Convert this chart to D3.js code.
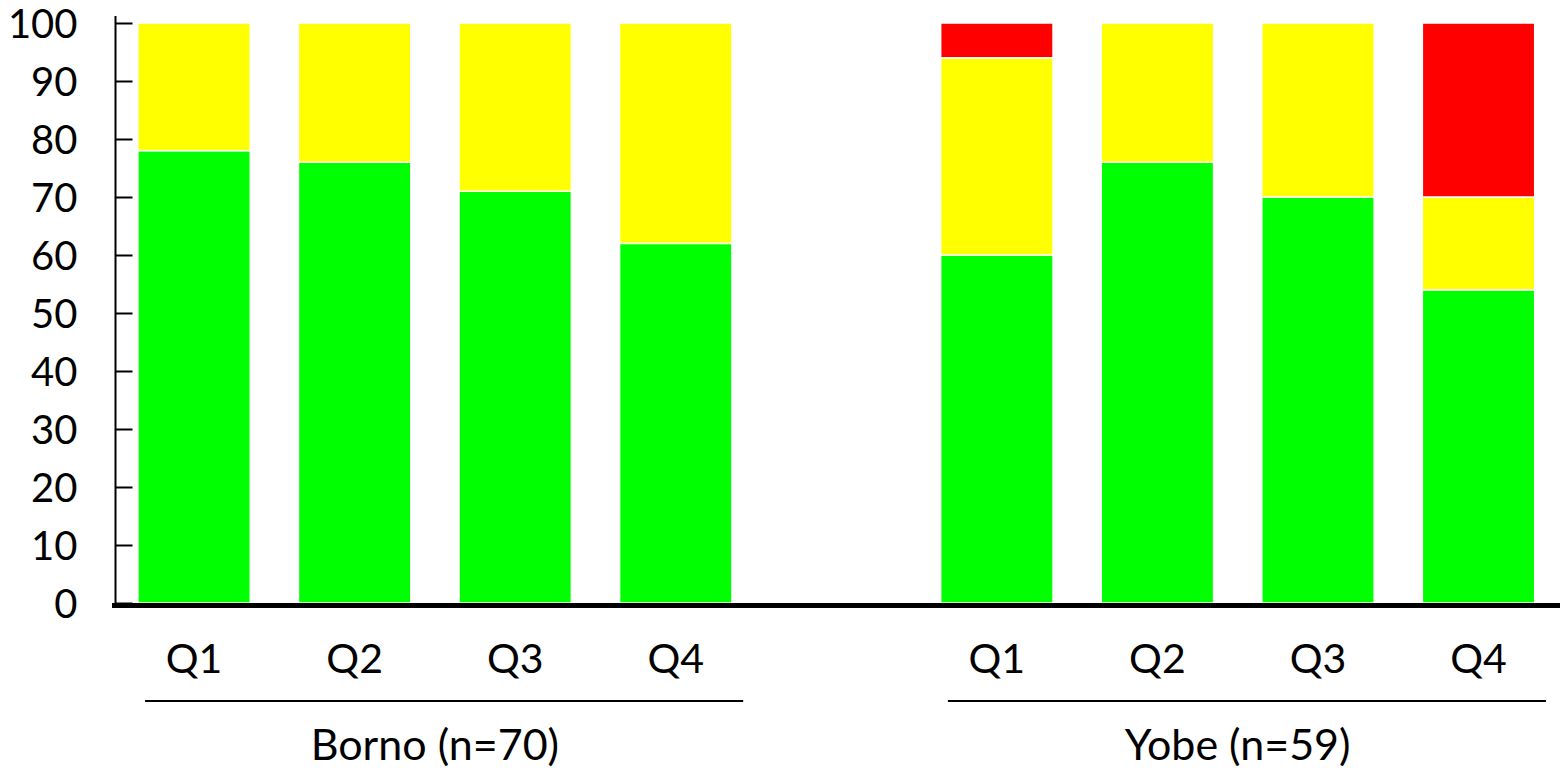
<!DOCTYPE html>
<html>
<head>
<meta charset="utf-8">
<script src="https://cdn.jsdelivr.net/npm/d3@7"></script>
<style>
  html, body { margin: 0; padding: 0; background: #fff; }
  svg { display: block; }
  text { font-family: Lato, "Open Sans", sans-serif; fill: #000; }
</style>
</head>
<body>
<svg id="chart" width="1560" height="772"></svg>
<script>
// Quarterly shares (%) per state, stacked green / yellow / red
const groups = ["Borno (n=70)", "Yobe (n=59)"];
const quarters = ["Q1", "Q2", "Q3", "Q4"];
const greenBorno = [78, 76, 71, 62];
const yellowBorno = [22, 24, 29, 38];
const redBorno = [0, 0, 0, 0];
const greenYobe = [60, 76, 70, 54];
const yellowYobe = [34, 24, 30, 16];
const redYobe = [6, 0, 0, 30];
const yTicks = [0, 10, 20, 30, 40, 50, 60, 70, 80, 90, 100];

const seriesKeys = ["green", "yellow", "red"];
const colors = { green: "#00ff00", yellow: "#ffff00", red: "#ff0000" };

// Build rows: one per bar, plus an empty slot between the two states
const rows = [];
const series = [
  { g: groups[0], green: greenBorno, yellow: yellowBorno, red: redBorno },
  { g: groups[1], green: greenYobe, yellow: yellowYobe, red: redYobe }
];
series.forEach((s, gi) => {
  if (gi > 0) rows.push({ key: "gap" + gi, q: "", group: null, green: 0, yellow: 0, red: 0 });
  quarters.forEach((q, i) => {
    rows.push({ key: s.g + q, q: q, group: s.g, green: s.green[i], yellow: s.yellow[i], red: s.red[i] });
  });
});

const svg = d3.select("#chart");

const x = d3.scaleBand()
  .domain(rows.map(d => d.key))
  .range([113.8, 1558.8])
  .paddingInner(0.3)
  .paddingOuter(0.15);

const y = d3.scaleLinear().domain([0, 100]).range([603, 23]);

const stack = d3.stack().keys(seriesKeys);
const stacked = stack(rows);

// Bars
svg.append("g")
  .selectAll("g")
  .data(stacked)
  .join("g")
  .attr("fill", d => colors[d.key])
  .selectAll("rect")
  .data(d => d.filter(p => p[1] - p[0] > 0))
  .join("rect")
  .attr("x", p => x(p.data.key))
  .attr("width", x.bandwidth())
  .attr("y", p => y(p[1]))
  .attr("height", p => y(p[0]) - y(p[1]))
  .attr("stroke", "#fff")
  .attr("stroke-width", 1.5);

// Y axis: ticks point into the plot, labels on the left
const axisX = 115.5;
const yAxis = d3.axisLeft(y)
  .tickValues(yTicks)
  .tickSizeInner(-17)
  .tickSizeOuter(0)
  .tickPadding(38);

const gy = svg.append("g")
  .attr("transform", `translate(${axisX},0)`)
  .call(yAxis);
gy.select(".domain").remove();
gy.selectAll(".tick line").attr("stroke", "#000").attr("stroke-width", 2);
gy.selectAll(".tick text")
  .style("font-family", "Lato, 'Open Sans', sans-serif")
  .style("font-size", "40px")
  .attr("fill", "#000")
  .attr("dy", "0.36em");
gy.append("line")
  .attr("x1", 0).attr("x2", 0)
  .attr("y1", y(0)).attr("y2", y(100) - 7)
  .attr("stroke", "#000").attr("stroke-width", 2);

// Baseline
svg.append("line")
  .attr("x1", 112).attr("x2", 1560)
  .attr("y1", y(0) + 2.5).attr("y2", y(0) + 2.5)
  .attr("stroke", "#000").attr("stroke-width", 5);

// Quarter labels
svg.append("g")
  .selectAll("text")
  .data(rows.filter(d => d.group))
  .join("text")
  .attr("x", d => x(d.key) + x.bandwidth() / 2)
  .attr("y", 673)
  .attr("text-anchor", "middle")
  .style("font-size", "41px")
  .text(d => d.q);

// State labels with underline
const step = x.step();
groups.forEach(g => {
  const members = rows.filter(d => d.group === g);
  const c0 = x(members[0].key) + x.bandwidth() / 2;
  const c1 = x(members[members.length - 1].key) + x.bandwidth() / 2;
  svg.append("line")
    .attr("x1", c0 - 0.305 * step).attr("x2", c1 + 0.42 * step)
    .attr("y1", 701).attr("y2", 701)
    .attr("stroke", "#000").attr("stroke-width", 2);
  svg.append("text")
    .attr("x", (c0 + c1) / 2)
    .attr("y", 760)
    .attr("text-anchor", "middle")
    .style("font-size", "43px")
    .text(g);
});
</script>
</body>
</html>
